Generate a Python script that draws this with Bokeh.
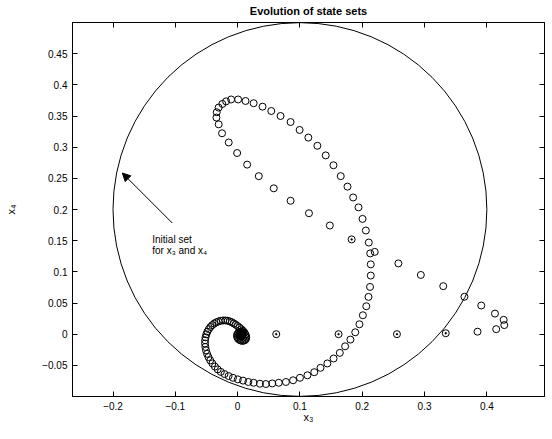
from bokeh.plotting import figure
from bokeh.models import (Label, Arrow, NormalHead, LinearAxis, FixedTicker,
                          CustomJSTickFormatter, Range1d, ColumnDataSource)
from bokeh.embed import file_html
from bokeh.resources import INLINE

# ---- data ----
title_text = "Evolution of state sets"
x_label = "x\u2083"
y_label = "x\u2084"
x_ticks = [-0.2, -0.1, 0, 0.1, 0.2, 0.3, 0.4]
y_ticks = [-0.05, 0, 0.05, 0.1, 0.15, 0.2, 0.25, 0.3, 0.35, 0.4, 0.45]
x_limits = [-0.265, 0.4925]
y_limits = [-0.1, 0.5]

# initial set: circle
set_cx = [0.1]
set_cy = [0.2]
set_r = 0.3

# main trajectory (x3, x4)
traj_x = [0.427, 0.413, 0.391, 0.364, 0.330, 0.294, 0.258, 0.220, 0.183, 0.148,
          0.1145, 0.085, 0.058, 0.034, 0.0153, -0.0008, -0.0143, -0.025, -0.0304, -0.034,
          -0.0335, -0.0305, -0.0245, -0.0185, -0.0104, 0.0008, 0.0127, 0.0257, 0.0400, 0.0540,
          0.0689, 0.085, 0.0995, 0.1135, 0.128, 0.1414, 0.1538, 0.1655, 0.1763, 0.1854,
          0.194, 0.2005, 0.2058, 0.2105, 0.2128, 0.2137, 0.2137, 0.2125, 0.210, 0.2065,
          0.201, 0.1955, 0.1888, 0.181, 0.1725, 0.164, 0.154, 0.144, 0.133, 0.123,
          0.112, 0.100, 0.089, 0.0775, 0.066, 0.0556, 0.0454, 0.0358, 0.0257, 0.0172,
          0.0087, 0.0003, -0.0075, -0.0145, -0.021, -0.027, -0.032, -0.0365, -0.0405, -0.044,
          -0.0468, -0.049, -0.0507, -0.0518, -0.0523, -0.0522, -0.0515, -0.0502, -0.0485, -0.0463,
          -0.0437, -0.0408, -0.0376, -0.0342, -0.0306, -0.027, -0.0233, -0.0196, -0.016, -0.0125,
          -0.0092, -0.006, -0.003, 0.0, 0.003, 0.006, 0.0088, 0.011, 0.0125, 0.0135,
          0.0138, 0.0132, 0.0118, 0.0098, 0.0075, 0.005, 0.0027, 0.0008, -0.0005, -0.001,
          -0.0005, 0.001, 0.003, 0.005, 0.0068, 0.008, 0.0084, 0.008, 0.007, 0.0055,
          0.004, 0.003, 0.0028, 0.0035, 0.0047, 0.0058, 0.0062, 0.0058, 0.005, 0.0045]
traj_y = [0.023, 0.033, 0.046, 0.060, 0.077, 0.095, 0.1135, 0.132, 0.152, 0.1743,
          0.194, 0.214, 0.234, 0.2535, 0.272, 0.2906, 0.3075, 0.3223, 0.3366, 0.3475,
          0.3560, 0.3635, 0.3693, 0.3735, 0.3765, 0.3765, 0.3741, 0.3705, 0.3650, 0.3580,
          0.3500, 0.3403, 0.3276, 0.3154, 0.3022, 0.2868, 0.271, 0.2535, 0.2367, 0.2193,
          0.2034, 0.1849, 0.1663, 0.147, 0.1295, 0.112, 0.094, 0.0758, 0.0598, 0.0448,
          0.0303, 0.0159, 0.0030, -0.0087, -0.0195, -0.030, -0.039, -0.047, -0.054, -0.061,
          -0.066, -0.070, -0.074, -0.0767, -0.078, -0.079, -0.080, -0.0795, -0.078, -0.0767,
          -0.0745, -0.0725, -0.070, -0.0672, -0.064, -0.0605, -0.0565, -0.052, -0.047, -0.042,
          -0.0368, -0.0315, -0.026, -0.0205, -0.015, -0.0098, -0.005, -0.0003, 0.004, 0.008,
          0.0115, 0.0145, 0.017, 0.019, 0.0205, 0.0215, 0.022, 0.022, 0.0215, 0.0205,
          0.019, 0.0172, 0.0152, 0.013, 0.0106, 0.008, 0.0053, 0.0025, -0.0003, -0.003,
          -0.0055, -0.0078, -0.0095, -0.0105, -0.0108, -0.0102, -0.009, -0.0072, -0.005, -0.0025,
          0.0, 0.0022, 0.0037, 0.0043, 0.0038, 0.0025, 0.0007, -0.0012, -0.0027, -0.0034,
          -0.0032, -0.0022, -0.0008, 0.0005, 0.0013, 0.0012, 0.0004, -0.0004, -0.0008, -0.0004]

# second set of points near x4 = 0
axis_x = [0.062, 0.162, 0.2557, 0.334, 0.385, 0.415, 0.428]
axis_y = [0.0, 0.0, 0.0, 0.0015, 0.004, 0.008, 0.0146]

# points showing a centre dot
dot_x = [0.062, 0.162, 0.2557, 0.334, 0.183]
dot_y = [0.0, 0.0, 0.0, 0.0015, 0.152]

note_lines = ["Initial set", "for x\u2083 and x\u2084"]
note_x = -0.137
note_y = [0.1514, 0.1335]
arrow_from = (-0.1048, 0.1783)
arrow_to = (-0.185, 0.2585)

FONT = "Liberation Sans"

p = figure(frame_width=472, frame_height=374, output_backend="svg", toolbar_location=None,
           x_range=Range1d(*x_limits), y_range=Range1d(*y_limits),
           min_border_left=72, min_border_right=2, min_border_top=22, min_border_bottom=40,
           background_fill_color="white", border_fill_color="white")
p.grid.visible = False
p.outline_line_color = "black"
p.outline_line_width = 1

fmt = CustomJSTickFormatter(code="""
const v = Math.round(tick*100)/100;
return v.toString().replace('-', '\u2212');
""")
blank = CustomJSTickFormatter(code="return '';")

for ax, ticks in ((p.xaxis[0], x_ticks), (p.yaxis[0], y_ticks)):
    ax.ticker = FixedTicker(ticks=ticks)
    ax.formatter = fmt
    ax.major_tick_in = 5
    ax.major_tick_out = 0
    ax.minor_tick_line_color = None
    ax.axis_line_color = "black"
    ax.major_tick_line_color = "black"
    ax.major_label_text_font = FONT
    ax.major_label_text_font_size = "10px"
    ax.major_label_text_color = "black"
    ax.major_label_standoff = 5
    ax.axis_label_text_font = FONT
    ax.axis_label_text_font_size = "11px"
    ax.axis_label_text_font_style = "normal"
    ax.axis_label_text_color = "black"

p.xaxis[0].axis_label = x_label
p.xaxis[0].axis_label_standoff = -2
p.yaxis[0].axis_label = y_label
p.yaxis[0].axis_label_standoff = 22

# top axis carries the chart title; right axis carries only ticks
top_ax = LinearAxis(ticker=FixedTicker(ticks=x_ticks), formatter=blank,
                    major_tick_in=5, major_tick_out=0, minor_tick_line_color=None,
                    axis_line_color="black", major_label_standoff=0,
                    axis_label=title_text, axis_label_text_font=FONT,
                    axis_label_text_font_size="11px", axis_label_text_font_style="bold",
                    axis_label_text_color="black", axis_label_standoff=6)
p.add_layout(top_ax, "above")
right_ax = LinearAxis(ticker=FixedTicker(ticks=y_ticks), formatter=blank,
                      major_tick_in=5, major_tick_out=0, minor_tick_line_color=None,
                      axis_line_color="black", major_label_standoff=0)
p.add_layout(right_ax, "right")

# initial set circle
p.circle(x=set_cx, y=set_cy, radius=set_r, radius_dimension="x",
         fill_color=None, line_color="black", line_width=1)

src = ColumnDataSource(dict(x=traj_x, y=traj_y))
p.scatter("x", "y", source=src, marker="circle", size=7, fill_color=None,
          line_color="black", line_width=1)
p.scatter(axis_x, axis_y, marker="circle", size=7, fill_color=None,
          line_color="black", line_width=1)
p.scatter(dot_x, dot_y, marker="circle", size=1.8, fill_color="black",
          line_color="black", line_width=0.5)

p.add_layout(Arrow(end=NormalHead(size=8, fill_color="black", line_color="black", line_width=1),
                   x_start=arrow_from[0], y_start=arrow_from[1],
                   x_end=arrow_to[0], y_end=arrow_to[1],
                   line_color="black", line_width=1))

for txt, yy in zip(note_lines, note_y):
    p.add_layout(Label(x=note_x, y=yy, text=txt, text_font=FONT, text_font_size="10px",
                       text_align="left", text_baseline="middle", text_color="black"))

open("out.html", "w").write(file_html(p, INLINE))
